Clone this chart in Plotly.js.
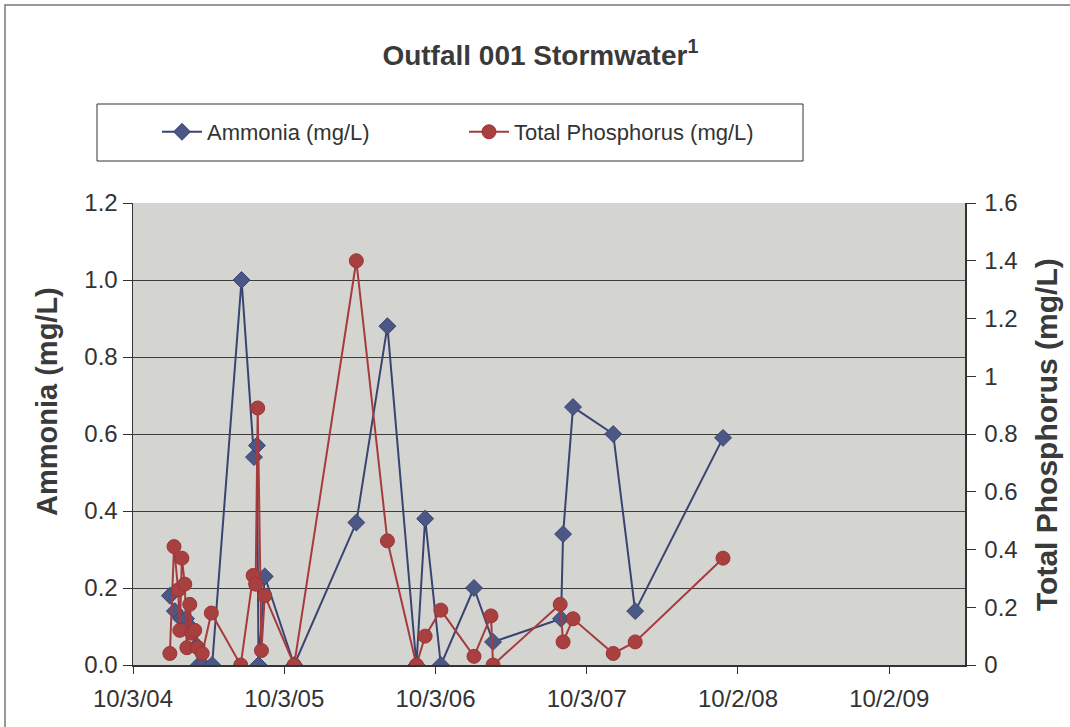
<!DOCTYPE html>
<html>
<head>
<meta charset="utf-8">
<script src="https://cdn.plot.ly/plotly-3.0.1.min.js"></script>
<style>html,body{margin:0;padding:0;background:#fff;}#chart{width:1070px;height:727px;}</style>
</head>
<body>
<div id="chart"></div>
<script>
// Ammonia (mg/L) – left axis
const ammoniaDates = ['2004-12-31','2005-01-12','2005-01-27','2005-02-08','2005-02-17','2005-03-06','2005-03-11','2005-03-21','2005-04-12','2005-06-22','2005-07-22','2005-07-29','2005-08-02','2005-08-17','2005-10-27','2006-03-26','2006-06-09','2006-08-18','2006-09-08','2006-10-16','2007-01-04','2007-02-19','2007-08-02','2007-08-07','2007-08-31','2007-12-06','2008-01-28','2008-08-27'];
const ammoniaValues = [0.18,0.14,0.12,0.12,0.10,0.05,0,0,0,1.0,0.54,0.57,0,0.23,0,0.37,0.88,0,0.38,0,0.20,0.06,0.12,0.34,0.67,0.60,0.14,0.59];

// Total Phosphorus (mg/L) – right axis
const phosDates = ['2004-12-31','2005-01-10','2005-01-20','2005-01-24','2005-01-29','2005-02-05','2005-02-10','2005-02-17','2005-02-22','2005-03-01','2005-03-08','2005-03-19','2005-04-10','2005-06-20','2005-07-20','2005-07-26','2005-07-31','2005-08-09','2005-08-17','2005-10-27','2006-03-26','2006-06-09','2006-08-18','2006-09-08','2006-10-16','2007-01-04','2007-02-14','2007-02-19','2007-07-31','2007-08-07','2007-08-31','2007-12-06','2008-01-28','2008-08-27'];
const phosValues = [0.04,0.41,0.26,0.12,0.37,0.28,0.06,0.21,0.11,0.12,0.06,0.04,0.18,0,0.31,0.28,0.89,0.05,0.24,0,1.40,0.43,0,0.10,0.19,0.03,0.17,0,0.21,0.08,0.16,0.04,0.08,0.37];

const xTickVals = ['2004-10-03','2005-10-03','2006-10-03','2007-10-03','2008-10-02','2009-10-02'];
const xTickText = ['10/3/04','10/3/05','10/3/06','10/3/07','10/2/08','10/2/09'];

const FONT = 'Liberation Sans, Arial, sans-serif';
const W = 1070, H = 727, L = 133, R = 965, T = 203, B = 665;
const px = x => (x - L) / (R - L);
const py = y => (B - y) / (B - T);

const traces = [
  {
    x: ammoniaDates, y: ammoniaValues, name: 'Ammonia (mg/L)', type: 'scatter', mode: 'lines+markers',
    yaxis: 'y',
    line: {color: '#3a4470', width: 2},
    marker: {symbol: 'diamond', size: 13, color: '#4b5784', line: {color: '#3a4470', width: 1}}
  },
  {
    x: phosDates, y: phosValues, name: 'Total Phosphorus (mg/L)', type: 'scatter', mode: 'lines+markers',
    yaxis: 'y2',
    line: {color: '#a63b3d', width: 2},
    marker: {symbol: 'circle', size: 14, color: '#a8403f', line: {color: '#9a3536', width: 1}}
  }
];

const layout = {
  width: W, height: H,
  margin: {l: L, r: W - R, t: T, b: H - B, pad: 0},
  paper_bgcolor: '#ffffff',
  plot_bgcolor: '#d4d4d1',
  font: {family: FONT, color: '#333333', size: 22},
  showlegend: true,
  title: {
    text: '<b>Outfall 001 Stormwater<sup>1</sup></b>',
    font: {family: FONT, size: 28, color: '#3a3a3a'},
    x: 0.505, xanchor: 'center', y: 1 - 55 / H, yanchor: 'middle'
  },
  legend: {
    orientation: 'h',
    x: px(157), xanchor: 'left',
    y: py(132), yanchor: 'middle',
    bgcolor: 'rgba(0,0,0,0)', borderwidth: 0,
    font: {family: FONT, size: 22, color: '#333333'},
    itemwidth: 40,
    entrywidth: 252
  },
  xaxis: {
    type: 'date',
    range: ['2004-10-03', '2010-04-03'],
    tickmode: 'array', tickvals: xTickVals, ticktext: xTickText,
    ticks: 'outside', ticklen: 7, tickcolor: '#333', tickwidth: 1,
    ticklabelstandoff: 5,
    showgrid: false, zeroline: false,
    showline: true, linecolor: '#333', linewidth: 1.5,
    tickfont: {family: FONT, size: 24, color: '#333'}
  },
  yaxis: {
    range: [0, 1.2], dtick: 0.2, tick0: 0, tickformat: '.1f',
    ticks: 'outside', ticklen: 9, tickcolor: '#333', tickwidth: 1,
    showgrid: true, gridcolor: '#3c3c3c', gridwidth: 1,
    zeroline: false, showline: true, linecolor: '#333', linewidth: 1.5,
    tickfont: {family: FONT, size: 24, color: '#333'}
  },
  yaxis2: {
    range: [0, 1.6], dtick: 0.2, tick0: 0,
    overlaying: 'y', side: 'right',
    ticks: 'outside', ticklen: 9, tickcolor: '#333', tickwidth: 1,
    ticklabelstandoff: 4,
    showgrid: false, zeroline: false, showline: true, linecolor: '#333', linewidth: 1.5,
    tickfont: {family: FONT, size: 24, color: '#333'}
  },
  annotations: [
    {text: '<b>Ammonia (mg/L)</b>', xref: 'paper', yref: 'paper', x: px(47), y: py(402),
     xanchor: 'center', yanchor: 'middle', textangle: -90, showarrow: false,
     font: {family: FONT, size: 29, color: '#3a3a3a'}},
    {text: '<b>Total Phosphorus (mg/L)</b>', xref: 'paper', yref: 'paper', x: px(1046), y: py(435),
     xanchor: 'center', yanchor: 'middle', textangle: -90, showarrow: false,
     font: {family: FONT, size: 30, color: '#3a3a3a'}}
  ],
  shapes: [
    {type: 'rect', xref: 'paper', yref: 'paper', layer: 'below',
     x0: px(5), x1: px(1080), y0: py(740), y1: py(5),
     line: {color: '#777', width: 1.5}, fillcolor: 'rgba(0,0,0,0)'},
    {type: 'rect', xref: 'paper', yref: 'paper', layer: 'below',
     x0: px(97), x1: px(803), y0: py(161), y1: py(104),
     line: {color: '#333', width: 1}, fillcolor: '#ffffff'}
  ]
};

Plotly.newPlot('chart', traces, layout, {displayModeBar: false, staticPlot: true});
</script>
</body>
</html>
